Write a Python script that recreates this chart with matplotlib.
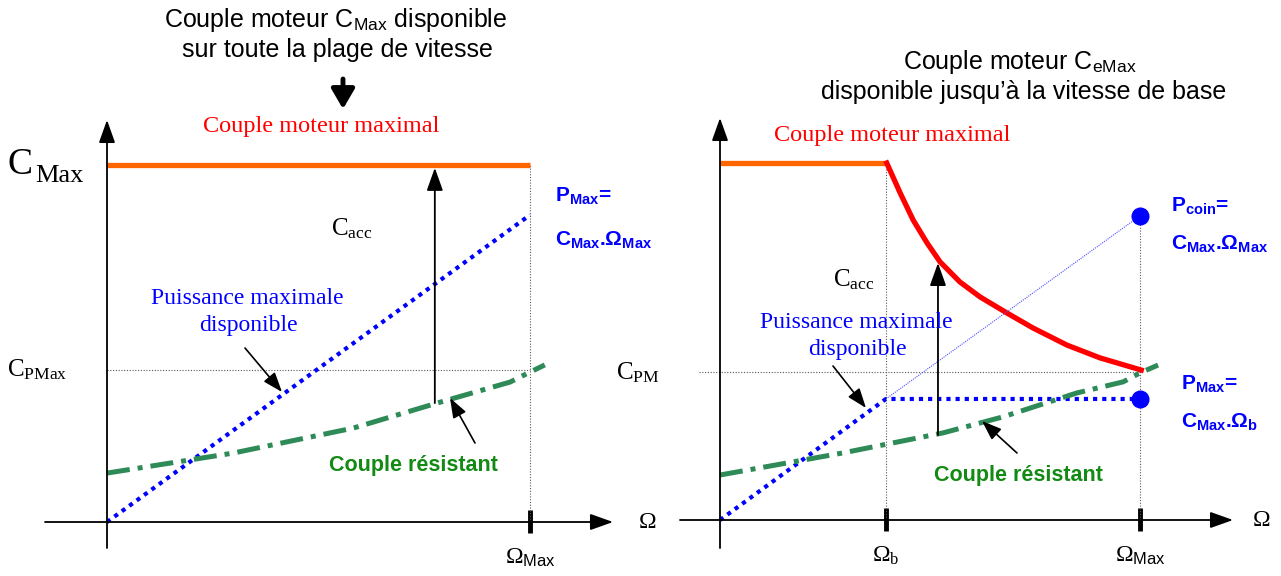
"""Couple moteur : entraînement à couple constant vs. à puissance constante."""

import matplotlib.pyplot as plt

# ---- data (Omega in units of Omega_Max, C in units of C_Max) ----
C_MAX = 1.0
OMEGA_MAX = 1.0
OMEGA_B = 0.395

# left: constant torque over the whole speed range
left_torque_omega = [0.0, 1.0]
left_torque_c = [1.0, 1.0]
left_power_omega = [0.0, 1.0]
left_power_c = [0.0, 0.86]
left_load_omega = [0.0, 0.298, 0.582, 0.780, 0.953, 0.995, 1.035]
left_load_c = [0.137, 0.193, 0.263, 0.333, 0.392, 0.417, 0.440]
left_cpmax = 0.426
left_acc_omega = 0.775
left_acc_c = [0.333, 1.0]

# right: constant torque up to base speed, then constant power
right_flat_omega = [0.0, 0.397]
right_flat_c = [1.0, 1.0]
right_curve_omega = [0.397, 0.429, 0.460, 0.493, 0.524, 0.571, 0.619,
                     0.683, 0.745, 0.826, 0.905, 1.003]
right_curve_c = [1.0, 0.916, 0.840, 0.776, 0.723, 0.667, 0.625,
                 0.580, 0.538, 0.490, 0.454, 0.420]
right_power_omega = [0.0, 0.395, 1.0]
right_power_c = [0.0, 0.339, 0.339]
right_corner_c = 0.852
right_load_omega = [0.0, 0.293, 0.531, 0.674, 0.850, 0.960, 1.0, 1.043]
right_load_c = [0.126, 0.188, 0.244, 0.289, 0.356, 0.387, 0.412, 0.434]
right_cpm = 0.415
right_acc_omega = 0.519
right_acc_c = [0.238, 0.72]

# ---- style ----
plt.rcParams['mathtext.fontset'] = 'custom'
plt.rcParams['mathtext.rm'] = 'Liberation Serif'
plt.rcParams['mathtext.sf'] = 'Liberation Sans'
plt.rcParams['mathtext.bf'] = 'Liberation Sans:bold'
plt.rcParams['mathtext.it'] = 'Liberation Serif:italic'

SERIF = 'Liberation Serif'
SANS = 'Liberation Sans'
ORANGE = '#ff6600'
RED = '#ff0000'
BLUE = '#0000ff'
GREEN = '#2e8b57'
DKGREEN = '#138a13'
GREY = '0.35'

W, H = 1281, 576
fig = plt.figure(figsize=(W/100, H/100), dpi=100)


def panel(x0, x1, ox, oy, sx, sy=357.0):
    """Axes covering pixel columns x0..x1, origin at pixel (ox, oy)."""
    ax = fig.add_axes([x0/W, 0, (x1-x0)/W, 1])
    ax.set_xlim((x0-ox)/sx, (x1-ox)/sx)
    ax.set_ylim((oy-H)/sy, oy/sy)
    ax.set_axis_off()
    ax.px = lambda x, y: ((x-ox)/sx, (oy-y)/sy)
    return ax


def arrow(ax, start, end, lw=1.3, hl=0.7, hw=0.25, scale=20, data=False):
    if not data:
        start, end = ax.px(*start), ax.px(*end)
    ax.annotate('', xy=end, xytext=start,
                arrowprops=dict(arrowstyle='-|>,head_length={},head_width={}'
                                .format(hl, hw), lw=lw, color='k',
                                mutation_scale=scale, shrinkA=0, shrinkB=0))


def axes_frame(ax, ybot, ytop, xleft, xright, yaxis_x, xaxis_y, omega_x):
    arrow(ax, (yaxis_x, ybot), (yaxis_x, ytop))
    arrow(ax, (xleft, xaxis_y), (xright, xaxis_y))
    ax.text(*ax.px(omega_x, xaxis_y), 'Ω', family=SERIF, fontsize=17,
            ha='center', va='center')


def tick(ax, omega):
    ax.plot([omega, omega], [-0.03, 0.035], color='k', lw=3.5,
            solid_capstyle='butt')


def dotted(ax, xs, ys):
    ax.plot(xs, ys, color=GREY, lw=0.8, ls=(0, (1, 1.5)))


def load(ax, xs, ys):
    ax.plot(xs, ys, color=GREEN, lw=3.6, ls=(0, (4.6, 1.6, 1, 1.6)),
            dash_capstyle='butt')


def power(ax, xs, ys):
    ax.plot(xs, ys, color=BLUE, lw=3.0, ls=(0, (1, 1.2)))


def label(ax, x, y, s, **kw):
    opts = dict(family=SANS, fontsize=15, weight='bold', color=BLUE,
                ha='left', va='center')
    opts.update(kw)
    ax.text(*ax.px(x, y), s, **opts)


# ================= left panel =================
ax = panel(0, 640.5, 107, 522, 423)

ax.text(*ax.px(336, 20),
        'Couple moteur $\\mathsf{C}_{\\mathsf{Max}}$ disponible',
        family=SANS, fontsize=18, ha='center', va='center')
ax.text(*ax.px(337, 50), 'sur toute la plage de vitesse',
        family=SANS, fontsize=18, ha='center', va='center')
arrow(ax, (343, 79), (343, 109), lw=3.5, hl=0.6, hw=0.35, scale=20)

axes_frame(ax, 548, 120, 45, 613, 107, 522, 648)
tick(ax, OMEGA_MAX)
dotted(ax, [0, OMEGA_MAX], [left_cpmax, left_cpmax])
dotted(ax, [OMEGA_MAX, OMEGA_MAX], [0, C_MAX])

ax.plot(left_torque_omega, left_torque_c, color=ORANGE, lw=3.8,
        solid_capstyle='butt')
power(ax, left_power_omega, left_power_c)
load(ax, left_load_omega, left_load_c)
arrow(ax, (left_acc_omega, left_acc_c[0]),
      (left_acc_omega, left_acc_c[1] - 0.008), data=True)

ax.text(*ax.px(321, 127), 'Couple moteur maximal', family=SERIF,
        fontsize=17.5, color=RED, ha='center', va='center')
ax.text(*ax.px(8, 174), 'C', family=SERIF, fontsize=27,
        ha='left', va='baseline')
ax.text(*ax.px(35, 182), 'Max', family=SERIF, fontsize=19,
        ha='left', va='baseline')
ax.text(*ax.px(7, 370), '$\\mathrm{C}_{\\mathrm{PMax}}$', family=SERIF,
        fontsize=18, ha='left', va='center')
ax.text(*ax.px(331, 229), '$\\mathrm{C}_{\\mathrm{acc}}$', family=SERIF,
        fontsize=18, ha='left', va='center')
ax.text(*ax.px(247, 298), 'Puissance maximale', family=SERIF, fontsize=17,
        color=BLUE, ha='center', va='center')
ax.text(*ax.px(248, 326), 'disponible', family=SERIF, fontsize=17,
        color=BLUE, ha='center', va='center')
arrow(ax, (245, 348), (282, 392), lw=1.2, hl=0.6, hw=0.22)
ax.text(*ax.px(413, 466), 'Couple résistant', family=SANS, fontsize=15.5,
        weight='bold', color=DKGREEN, ha='center', va='center')
arrow(ax, (475, 443), (450, 398), lw=1.2, hl=0.6, hw=0.22)
label(ax, 555, 196, '$\\mathbf{P}_{\\mathbf{Max}}$=')
label(ax, 555, 240, '$\\mathbf{C}_{\\mathbf{Max}}$.Ω$_{\\mathbf{Max}}$')
ax.text(*ax.px(530, 558), 'Ω$_{\\mathsf{Max}}$', family=SERIF, fontsize=17,
        ha='center', va='center')

# ================= right panel =================
ax = panel(640.5, 1281, 720, 520, 420)

ax.text(*ax.px(1020, 62),
        'Couple moteur $\\mathsf{C}_{\\mathsf{eMax}}$',
        family=SANS, fontsize=18, ha='center', va='center')
ax.text(*ax.px(1024, 92), 'disponible jusqu’à la vitesse de base',
        family=SANS, fontsize=18, ha='center', va='center')

axes_frame(ax, 548, 118, 680, 1233, 720, 520, 1262)
tick(ax, OMEGA_B)
tick(ax, OMEGA_MAX)
dotted(ax, [-0.05, OMEGA_MAX], [right_cpm, right_cpm])
dotted(ax, [OMEGA_B, OMEGA_B], [0, C_MAX])
dotted(ax, [OMEGA_MAX, OMEGA_MAX], [0, right_corner_c])

ax.plot(right_flat_omega, right_flat_c, color=ORANGE, lw=3.8,
        solid_capstyle='butt')
ax.plot(right_curve_omega, right_curve_c, color=RED, lw=3.8,
        solid_joinstyle='round')
ax.plot([OMEGA_B, OMEGA_MAX], [right_power_c[1], right_corner_c],
        color='#5050ff', lw=0.8, ls=(0, (1, 1)))
power(ax, right_power_omega, right_power_c)
ax.plot([OMEGA_MAX, OMEGA_MAX], [right_power_c[-1], right_corner_c], 'o',
        color=BLUE, ms=12)
load(ax, right_load_omega, right_load_c)
arrow(ax, (right_acc_omega, right_acc_c[0]),
      (right_acc_omega, right_acc_c[1]), data=True)

ax.text(*ax.px(892, 136), 'Couple moteur maximal', family=SERIF,
        fontsize=17.5, color=RED, ha='center', va='center')
ax.text(*ax.px(616, 373), '$\\mathrm{C}_{\\mathrm{PM}}$', family=SERIF,
        fontsize=18, ha='left', va='center')
ax.text(*ax.px(833, 280), '$\\mathrm{C}_{\\mathrm{acc}}$', family=SERIF,
        fontsize=18, ha='left', va='center')
ax.text(*ax.px(856, 322), 'Puissance maximale', family=SERIF, fontsize=17,
        color=BLUE, ha='center', va='center')
ax.text(*ax.px(857, 350), 'disponible', family=SERIF, fontsize=17,
        color=BLUE, ha='center', va='center')
arrow(ax, (833, 366), (866, 408), lw=1.2, hl=0.6, hw=0.22)
ax.text(*ax.px(1018, 475), 'Couple résistant', family=SANS, fontsize=15.5,
        weight='bold', color=DKGREEN, ha='center', va='center')
arrow(ax, (1017, 453), (982, 421), lw=1.2, hl=0.6, hw=0.22)
label(ax, 1171, 205, '$\\mathbf{P}_{\\mathbf{coin}}$=')
label(ax, 1171, 244, '$\\mathbf{C}_{\\mathbf{Max}}$.Ω$_{\\mathbf{Max}}$')
label(ax, 1181, 383, '$\\mathbf{P}_{\\mathbf{Max}}$=')
label(ax, 1181, 421, '$\\mathbf{C}_{\\mathbf{Max}}$.Ω$_{\\mathbf{b}}$')
ax.text(*ax.px(886, 556), 'Ω$_{\\mathrm{b}}$', family=SERIF, fontsize=17,
        ha='center', va='center')
ax.text(*ax.px(1140, 556), 'Ω$_{\\mathsf{Max}}$', family=SERIF, fontsize=17,
        ha='center', va='center')

fig.savefig('out.png', dpi=100)
